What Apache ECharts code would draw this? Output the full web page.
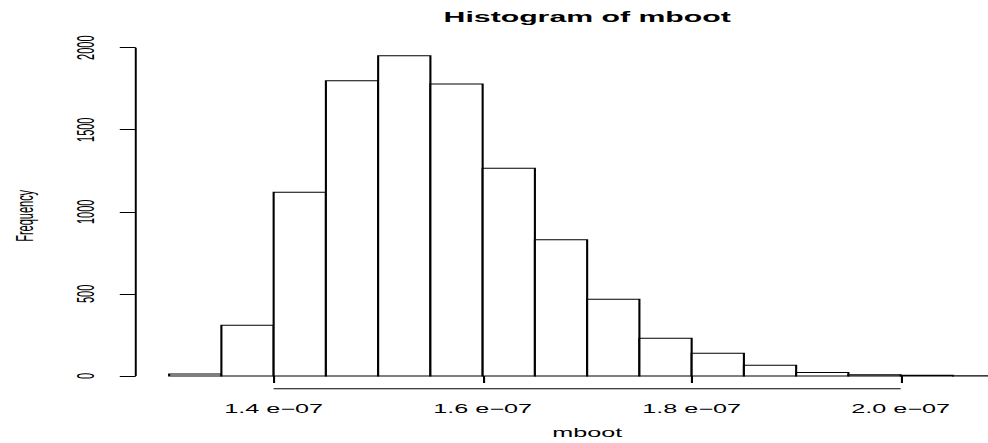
<!DOCTYPE html>
<html>
<head>
<meta charset="utf-8">
<script src="https://cdn.jsdelivr.net/npm/echarts@6/dist/echarts.min.js"></script>
<style>
  html, body { margin: 0; padding: 0; background: #fff; overflow: hidden; }
  #wrap { width: 988px; height: 443px; overflow: hidden; position: relative; background: #fff; }
  #chart { width: 500px; height: 443px; transform: scaleX(2.1); transform-origin: 0 0; }
</style>
</head>
<body>
<div id="wrap"><div id="chart"></div></div>
<script>
// Histogram data (x in units of 1e-07)
const breaks = [1.30, 1.35, 1.40, 1.45, 1.50, 1.55, 1.60, 1.65, 1.70, 1.75, 1.80, 1.85, 1.90, 1.95, 2.00, 2.05, 2.10];
const counts = [12, 309, 1119, 1799, 1951, 1779, 1265, 830, 467, 230, 138, 65, 22, 8, 4, 2];
const xTicks = [1.4, 1.6, 1.8, 2.0];
const xTickLabels = ['1.4 e\u221207', '1.6 e\u221207', '1.8 e\u221207', '2.0 e\u221207'];
const yTicks = [0, 500, 1000, 1500, 2000];
const yTickLabels = ['0', '500', '1000', '1500', '2000'];

// R-style axis ranges: data range extended by 4% on each side
const xSpan = breaks[breaks.length - 1] - breaks[0];
const xMin = breaks[0] - 0.04 * xSpan;
const xMax = breaks[breaks.length - 1] + 0.04 * xSpan;
const cMax = Math.max(...counts);
const yMin = -0.04 * cMax;
const yMax = 1.04 * cMax;

const bins = counts.map((c, i) => [breaks[i], breaks[i + 1], c]);

const font = '"Liberation Sans", Arial, Helvetica, sans-serif';

const chart = echarts.init(document.getElementById('chart'), null, { renderer: 'svg' });
chart.setOption({
  animation: false,
  backgroundColor: '#fff',
  title: {
    text: 'Histogram of mboot',
    left: 279.6,
    top: 10,
    padding: 0,
    textAlign: 'center',
    textStyle: { fontFamily: font, fontSize: 14.4, fontWeight: 'bold', color: '#000' }
  },
  grid: { left: 64.62, top: 42.9, width: 429.95, height: 345.9, containLabel: false, outerBoundsMode: 'none' },
  xAxis: {
    type: 'value',
    min: xMin,
    max: xMax,
    name: 'mboot',
    nameLocation: 'middle',
    nameGap: 38,
    nameTextStyle: { fontFamily: font, fontSize: 12, color: '#000' },
    axisLine: { show: false },
    splitLine: { show: false },
    axisTick: { show: true, length: 7, lineStyle: { color: '#000', width: 1 }, customValues: xTicks },
    axisLabel: {
      show: true, margin: 14, fontFamily: font, fontSize: 12, color: '#000',
      customValues: xTicks,
      formatter: function (v) {
        const i = xTicks.findIndex(t => Math.abs(t - v) < 1e-9);
        return i >= 0 ? xTickLabels[i] : '';
      }
    }
  },
  yAxis: {
    type: 'value',
    min: yMin,
    max: yMax,
    name: 'Frequency',
    nameLocation: 'middle',
    nameGap: 47,
    nameRotate: 90,
    nameTextStyle: { fontFamily: font, fontSize: 11, color: '#000' },
    axisLine: { show: false },
    splitLine: { show: false },
    axisTick: { show: true, length: 7.6, lineStyle: { color: '#000', width: 1 }, customValues: yTicks },
    axisLabel: {
      show: true, margin: 18, rotate: 90, fontFamily: font, fontSize: 11, color: '#000',
      customValues: yTicks,
      formatter: function (v) {
        const i = yTicks.findIndex(t => Math.abs(t - v) < 1e-9);
        return i >= 0 ? yTickLabels[i] : '';
      }
    }
  },
  series: [
    {
      type: 'custom',
      silent: true,
      clip: false,
      encode: { x: [0, 1], y: 2 },
      data: bins,
      renderItem: function (params, api) {
        const p0 = api.coord([api.value(0), 0]);
        const p1 = api.coord([api.value(1), api.value(2)]);
        return {
          type: 'rect',
          shape: { x: p0[0], y: p1[1], width: p1[0] - p0[0], height: p0[1] - p1[1] },
          style: { fill: '#fff', stroke: '#000', lineWidth: 1 }
        };
      }
    },
    {
      type: 'line',
      silent: true,
      clip: false,
      symbol: 'none',
      lineStyle: { color: '#000', width: 1 },
      data: [[xTicks[0], yMin], [xTicks[xTicks.length - 1], yMin]]
    },
    {
      type: 'line',
      silent: true,
      clip: false,
      symbol: 'none',
      lineStyle: { color: '#000', width: 1 },
      data: [[xMin, yTicks[0]], [xMin, yTicks[yTicks.length - 1]]]
    }
  ]
});
</script>
</body>
</html>
